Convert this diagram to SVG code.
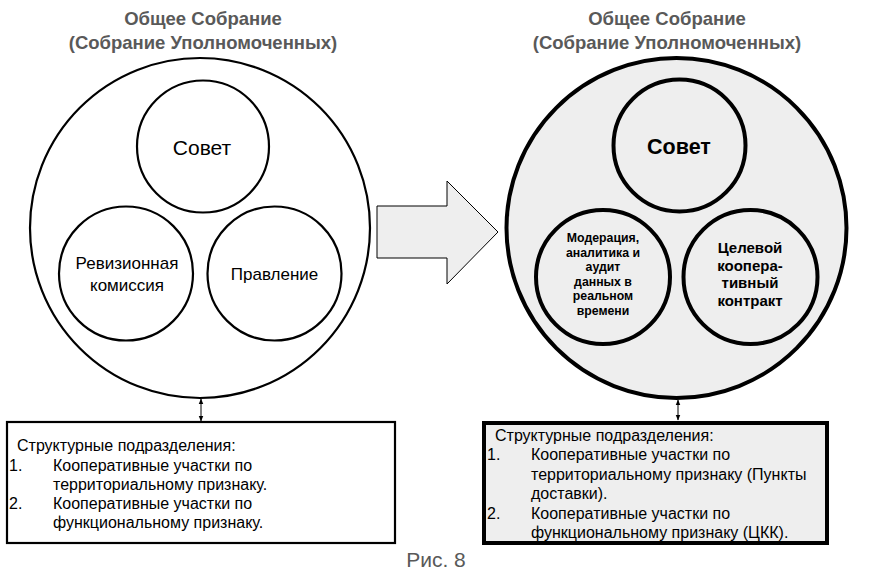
<svg xmlns="http://www.w3.org/2000/svg" width="877" height="573" viewBox="0 0 877 573">
<defs>
<style>
.t{font-family:"Liberation Sans",Arial,sans-serif;}
.title{font-size:18.5px;font-weight:bold;fill:#595959;text-anchor:middle;}
.c1{fill:#fff;stroke:#000;stroke-width:2.2;}
.c2{fill:#eeeeee;stroke:#000;stroke-width:4;}
.lbl{font-size:17px;fill:#000;text-anchor:middle;}
.mod{font-size:12.3px;font-weight:bold;}
.ctr{font-size:15px;font-weight:bold;}
.box{font-size:16px;fill:#000;}
.conn{stroke:#000;stroke-width:1;fill:none;marker-start:url(#ah);marker-end:url(#ah);}
</style>
<marker id="ah" viewBox="0 0 10 10" refX="9" refY="5" markerWidth="6" markerHeight="6" orient="auto-start-reverse" markerUnits="userSpaceOnUse">
<path d="M0,1 L10,5 L0,9 Z" fill="#000"/>
</marker>
</defs>
<rect width="877" height="573" fill="#fff"/>

<g id="title-left" class="t">
<text class="title" x="203" y="24.5">Общее Собрание</text>
<text class="title" x="203" y="48.5">(Собрание Уполномоченных)</text>
</g>
<g id="title-right" class="t">
<text class="title" x="667" y="24.5">Общее Собрание</text>
<text class="title" x="667" y="48.5">(Собрание Уполномоченных)</text>
</g>

<g id="left-assembly"><circle class="c1" cx="200" cy="228" r="170"/></g>
<g id="left-sovet" class="t"><circle class="c1" cx="203" cy="146.5" r="66"/><text class="lbl" x="202" y="155" style="font-size:21px">Совет</text></g>
<g id="left-revision" class="t"><circle class="c1" cx="126" cy="273.5" r="67"/><text class="lbl" x="127" y="269">Ревизионная</text><text class="lbl" x="127" y="291">комиссия</text></g>
<g id="left-pravlenie" class="t"><circle class="c1" cx="274.5" cy="273.5" r="67"/><text class="lbl" x="274.5" y="280">Правление</text></g>

<g id="transition-arrow"><polygon points="377,206 447,206 447,181 498,232 447,284 447,258 377,258" fill="#eeeeee" stroke="#000" stroke-width="1"/></g>

<g id="right-assembly"><circle class="c2" cx="676.5" cy="228" r="170"/></g>
<g id="right-sovet" class="t"><circle class="c2" cx="679.5" cy="145.5" r="66"/><text class="lbl" x="679" y="154" style="font-size:21.5px;font-weight:bold">Совет</text></g>
<g id="right-moderation" class="t"><circle class="c2" cx="603" cy="277" r="67"/>
<text class="lbl mod" x="603" y="242">Модерация,</text>
<text class="lbl mod" x="603" y="256.5">аналитика и</text>
<text class="lbl mod" x="603" y="271">аудит</text>
<text class="lbl mod" x="603" y="285.5">данных в</text>
<text class="lbl mod" x="603" y="300">реальном</text>
<text class="lbl mod" x="603" y="314.5">времени</text>
</g>
<g id="right-contract" class="t"><circle class="c2" cx="750.5" cy="277" r="67"/>
<text class="lbl ctr" x="750" y="252.5">Целевой</text>
<text class="lbl ctr" x="750" y="270.5">коопера-</text>
<text class="lbl ctr" x="750" y="288">тивный</text>
<text class="lbl ctr" x="750" y="305.5">контракт</text>
</g>

<g id="connectors">
<line class="conn" x1="201" y1="399" x2="201" y2="421"/>
<line class="conn" x1="678" y1="400" x2="678" y2="420"/>
</g>

<g id="left-units" class="t">
<rect x="7" y="422" width="388" height="121" fill="#fff" stroke="#000" stroke-width="2.2"/>
<text class="box" x="17" y="450.5">Структурные подразделения:</text>
<text class="box" x="9" y="470.5">1.</text><text class="box" x="53" y="470.5">Кооперативные участки по</text>
<text class="box" x="53" y="489.5">территориальному признаку.</text>
<text class="box" x="9" y="508.5">2.</text><text class="box" x="53" y="508.5">Кооперативные участки по</text>
<text class="box" x="53" y="527.5">функциональному признаку.</text>
</g>

<g id="right-units" class="t">
<rect x="484" y="423" width="343" height="120" fill="#eeeeee" stroke="#000" stroke-width="4"/>
<text class="box" x="495" y="440.5">Структурные подразделения:</text>
<text class="box" x="487" y="459.5">1.</text><text class="box" x="531" y="459.5">Кооперативные участки по</text>
<text class="box" x="531" y="480">территориальному признаку (Пункты</text>
<text class="box" x="531" y="498.5">доставки).</text>
<text class="box" x="487" y="518.5">2.</text><text class="box" x="531" y="518.5">Кооперативные участки по</text>
<text class="box" x="531" y="537.5">функциональному признаку (ЦКК).</text>
</g>

<g id="caption" class="t"><text x="436" y="567" style="font-size:21px;fill:#595959;text-anchor:middle">Рис. 8</text></g>
</svg>
